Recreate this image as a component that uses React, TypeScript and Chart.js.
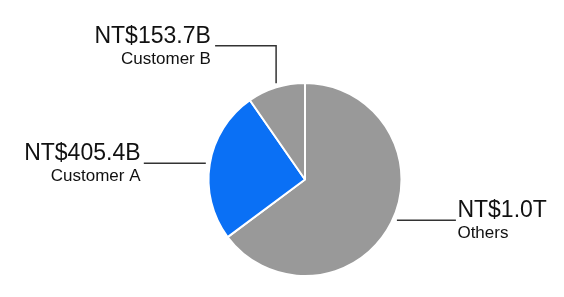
import React, { useEffect, useRef } from "react";
import { Chart, registerables } from "chart.js";

Chart.register(...registerables);

const categories = ["Others", "Customer A", "Customer B"];
const values = [1030, 405.4, 153.7];
const valueLabels = ["NT$1.0T", "NT$405.4B", "NT$153.7B"];
const colors = ["#999999", "#0a70f5", "#999999"];

// leader-line layout per slice (styling only)
const labelLayout = [
  { kind: "right", len: 59, gap: 1.5, nudge: -2.8 },
  { kind: "left", len: 62, gap: 3.3, nudge: 0 },
  { kind: "elbow", up: 37.5, len: 61, gap: 4.3, nudge: 0.7 },
];

const FONT = "'Liberation Sans', Arial, Helvetica, sans-serif";

const leaderPlugin = {
  id: "leaderLabels",
  afterDraw(chart: any) {
    const ctx = chart.ctx;
    const meta = chart.getDatasetMeta(0);
    ctx.save();
    meta.data.forEach((arc: any, i: number) => {
      const p = arc.getProps(["x", "y", "startAngle", "endAngle", "outerRadius"], true);
      const lay: any = labelLayout[i];
      const mid = (p.startAngle + p.endAngle) / 2 + (lay.nudge * Math.PI) / 180;
      const r = p.outerRadius + 4;
      const ax = p.x + Math.cos(mid) * r;
      const ay = p.y + Math.sin(mid) * r;
      ctx.strokeStyle = "#333333";
      ctx.lineWidth = 1.5;
      ctx.beginPath();
      let endX = ax;
      let lineY = ay;
      let align: CanvasTextAlign = "left";
      if (lay.kind === "right") {
        endX = ax + lay.len;
        ctx.moveTo(ax, ay);
        ctx.lineTo(endX, ay);
        align = "left";
      } else if (lay.kind === "left") {
        endX = ax - lay.len;
        ctx.moveTo(ax, ay);
        ctx.lineTo(endX, ay);
        align = "right";
      } else {
        lineY = ay - lay.up;
        endX = ax - lay.len;
        ctx.moveTo(ax, ay);
        ctx.lineTo(ax, lineY);
        ctx.lineTo(endX, lineY);
        align = "right";
      }
      ctx.stroke();
      const tx = align === "left" ? endX + lay.gap : endX - lay.gap;
      ctx.fillStyle = "#111111";
      ctx.textAlign = align;
      ctx.textBaseline = "alphabetic";
      ctx.font = `23px ${FONT}`;
      ctx.fillText(valueLabels[i], tx, lineY - 3);
      ctx.font = `17px ${FONT}`;
      ctx.fillText(categories[i], tx, lineY + 18);
    });
    ctx.restore();
  },
};

export default function App() {
  const ref = useRef<HTMLCanvasElement | null>(null);
  useEffect(() => {
    if (!ref.current) return;
    const chart = new Chart(ref.current, {
      type: "pie",
      data: {
        labels: categories,
        datasets: [
          {
            data: values,
            backgroundColor: colors,
            borderColor: "#ffffff",
            borderWidth: 2,
          },
        ],
      },
      options: {
        responsive: false,
        animation: false,
        layout: { padding: { top: 82, bottom: 20, left: 110, right: 64 } },
        plugins: {
          legend: { display: false },
          tooltip: { enabled: false },
        },
      },
      plugins: [leaderPlugin],
    });
    return () => chart.destroy();
  }, []);
  return (
    <div style={{ position: "absolute", left: 0, top: 0, width: 564, height: 297, background: "#fff" }}>
      <canvas ref={ref} width={564} height={297} style={{ display: "block" }} />
    </div>
  );
}
